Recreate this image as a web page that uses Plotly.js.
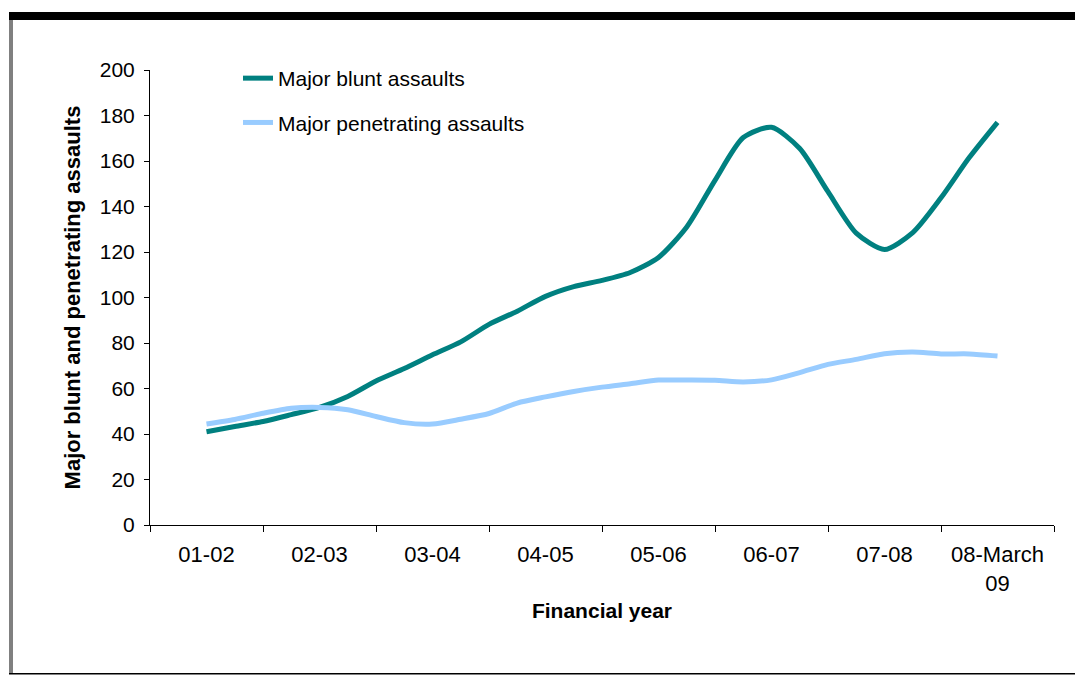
<!DOCTYPE html>
<html>
<head>
<meta charset="utf-8">
<script src="https://cdn.plot.ly/plotly-3.0.1.min.js"></script>
<style>
  html, body { margin: 0; padding: 0; background: #ffffff; }
  #chart { width: 1075px; height: 675px; }
</style>
</head>
<body>
<div id="chart"></div>
<script>
// Category labels (financial years)
const yearLabels = ["01-02", "02-03", "03-04", "04-05", "05-06", "06-07", "07-08", "08-March<br>09"];
const yearPositions = [0, 1, 2, 3, 4, 5, 6, 7];
const boundaryPositions = [-0.5, 0.5, 1.5, 2.5, 3.5, 4.5, 5.5, 6.5, 7.5];

// Quarterly sample positions (in financial years from 01-02)
const quarters = [0, 0.25, 0.5, 0.75, 1, 1.25, 1.5, 1.75, 2, 2.25, 2.5, 2.75, 3, 3.25, 3.5, 3.75,
                  4, 4.25, 4.5, 4.75, 5, 5.25, 5.5, 5.75, 6, 6.25, 6.5, 6.75, 7];

// Major blunt assaults
const bluntValues = [41, 43.3, 45.5, 48.5, 51.7, 56.5, 63.3, 68.8, 74.8, 80.5, 88.2, 94, 100.5, 104.8, 107.5, 111,
                     117.6, 131, 151.5, 170.3, 174.8, 165.5, 146.5, 128.3, 121.1, 128.5, 143.8, 161.5, 177];

// Major penetrating assaults
const penetratingValues = [44.4, 46.4, 49.1, 51.3, 51.7, 50.7, 47.7, 45, 44.4, 46.5, 49, 53.6, 56.3, 58.7, 60.6, 62.1,
                           63.7, 63.7, 63.6, 62.9, 63.8, 67, 70.6, 72.8, 75.3, 76, 75.2, 75.2, 74.3];

const W = 1075, H = 675;
const M = { l: 150, r: 21, t: 70, b: 150 };
const plotW = W - M.l - M.r, plotH = H - M.t - M.b;
function px(x) { return (x - M.l) / plotW; }
function py(y) { return (H - M.b - y) / plotH; }

const FONT = "Liberation Sans, Arial, sans-serif";

const traces = [
  {
    x: quarters, y: bluntValues, type: "scatter", mode: "lines",
    name: "Major blunt assaults", legendgroup: "a",
    line: { color: "#008080", width: 5, shape: "spline", smoothing: 0.7 }
  },
  {
    x: quarters, y: penetratingValues, type: "scatter", mode: "lines",
    name: "Major penetrating assaults", legendgroup: "b",
    line: { color: "#99CCFF", width: 5, shape: "spline", smoothing: 0.7 }
  }
];

const layout = {
  width: W, height: H,
  margin: M,
  paper_bgcolor: "#ffffff", plot_bgcolor: "#ffffff",
  font: { family: FONT, size: 21, color: "#000000" },
  showlegend: true,
  legend: {
    x: px(238), y: py(58), xanchor: "left", yanchor: "top",
    bgcolor: "rgba(0,0,0,0)", borderwidth: 0,
    font: { family: FONT, size: 21, color: "#000000" },
    traceorder: "grouped", tracegroupgap: 14
  },
  xaxis: {
    range: [-0.5, 7.5],
    tickmode: "array", tickvals: yearPositions, ticktext: yearLabels,
    ticks: "", showgrid: false, zeroline: false,
    showline: true, linecolor: "#000000", linewidth: 1,
    tickfont: { family: FONT, size: 22, color: "#000000" },
    ticklabelstandoff: 10,
    minor: { tickmode: "array", tickvals: boundaryPositions, ticks: "outside", ticklen: 6, tickwidth: 1, tickcolor: "#000000", showgrid: false },
    title: { text: "<b>Financial year</b>", font: { family: FONT, size: 21, color: "#000000" }, standoff: 8 },
    automargin: true,
    fixedrange: true
  },
  yaxis: {
    range: [0, 200], dtick: 20, tick0: 0,
    ticks: "outside", ticklen: 5, tickwidth: 1, tickcolor: "#000000",
    showgrid: false, zeroline: false,
    showline: true, linecolor: "#000000", linewidth: 1,
    tickfont: { family: FONT, size: 21, color: "#000000" },
    ticklabelstandoff: 5,
    title: { text: "<b>Major blunt and penetrating assaults</b>", font: { family: FONT, size: 22, color: "#000000" }, standoff: 13 },
    automargin: true,
    fixedrange: true
  },
  shapes: [
    { type: "rect", xref: "paper", yref: "paper", x0: px(9), x1: px(1075), y0: py(12), y1: py(20), fillcolor: "#000000", line: { width: 0 }, layer: "above" },
    { type: "rect", xref: "paper", yref: "paper", x0: px(9), x1: px(13), y0: py(20), y1: py(674), fillcolor: "#808080", line: { width: 0 }, layer: "above" },
    { type: "rect", xref: "paper", yref: "paper", x0: px(9), x1: px(1075), y0: py(673), y1: py(674.5), fillcolor: "#000000", line: { width: 0 }, layer: "above" }
  ]
};

Plotly.newPlot("chart", traces, layout, { displayModeBar: false, staticPlot: true });
</script>
</body>
</html>
